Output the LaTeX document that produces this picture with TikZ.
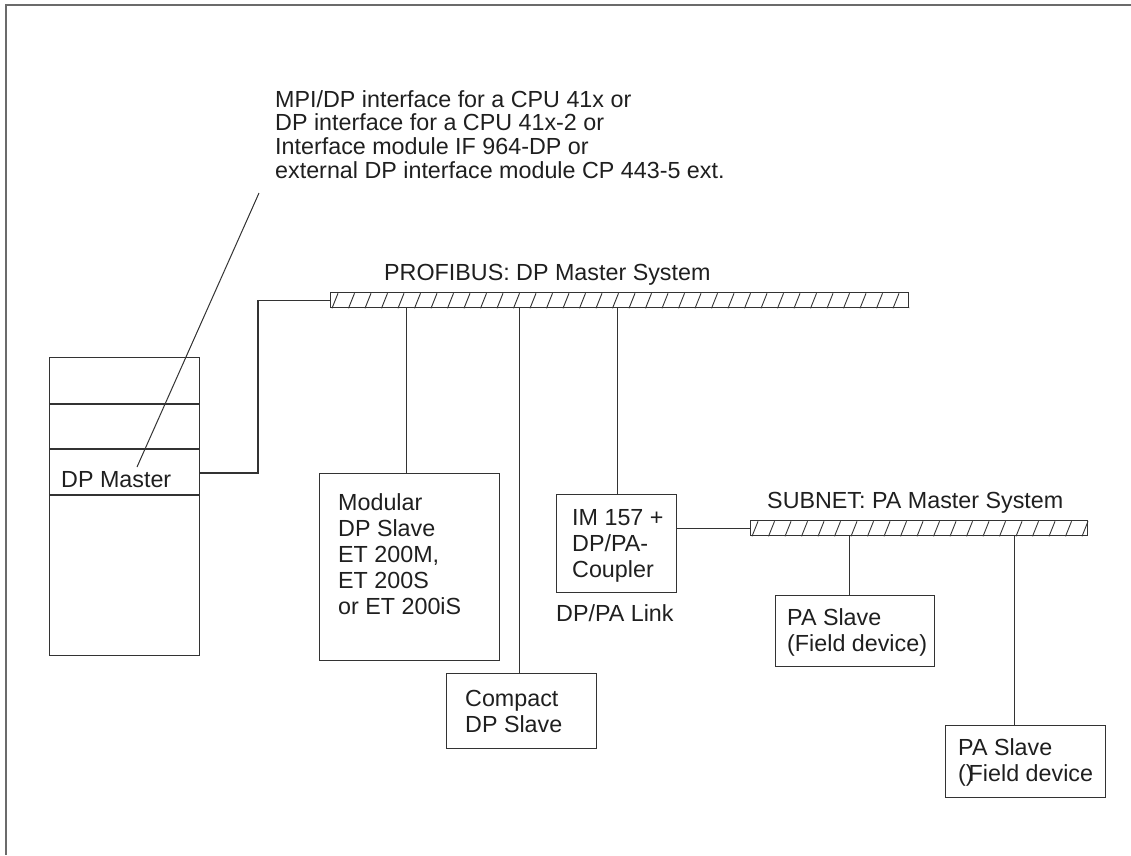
\documentclass[tikz,border=0pt]{standalone}
\usepackage{fontspec}
\setmainfont{Liberation Sans}
\definecolor{linec}{gray}{0.2}
\definecolor{framec}{gray}{0.42}
\definecolor{textc}{gray}{0.12}
\newcommand{\lns}[1]{\parbox[t]{600pt}{\raggedright #1}}
\begin{document}
\begin{tikzpicture}[x=1pt,y=-1pt,
  box/.style={draw=linec, line width=1.3pt, inner sep=0pt, anchor=north west},
  bus/.style={draw=linec, line width=1.3pt, inner sep=0pt, anchor=north west, minimum height=15},
  wire/.style={draw=linec, line width=1.3pt},
  hatch/.style={draw=linec, line width=0.9pt},
  txt/.style={anchor=base west, inner sep=0pt, text=textc, font=\fontsize{23.3}{26}\selectfont},
  frame/.style={draw=framec, line width=2pt}]
\useasboundingbox (0,0) rectangle (1131,855);
% frame
\draw[frame] (1131,5) -- (6,5) -- (6,855);
% DP master rack
\node[box, minimum width=150, minimum height=298] (dpm) at (49,357) {};
\coordinate (d1) at (49,404); \coordinate (d2) at (49,449); \coordinate (d3) at (49,495);
\draw[wire] (d1) -- (d1 -| dpm.east);
\draw[wire] (d2) -- (d2 -| dpm.east);
\draw[wire] (d3) -- (d3 -| dpm.east);
\node[txt] (dpmt) at (61,487) {DP Master};
% PROFIBUS bus
\node[bus, minimum width=578] (pb) at (330,292) {};
\begin{scope}
\clip (pb.south west) rectangle (pb.north east);
\foreach \i in {0,...,35} \draw[hatch] ([xshift=\i*16.5pt+2pt]pb.south west) -- ++(6,-15);
\end{scope}
\node[txt] (pbt) at (384,280) {PROFIBUS: DP Master System};
% annotation
\node[txt, font=\fontsize{23.3}{23.7}\selectfont] (ann) at (275,107) {\lns{MPI/DP interface for a CPU 41x or\\DP interface for a CPU 41x-2 or\\Interface module IF 964-DP or\\external DP interface module CP 443-5 ext.}};
\coordinate (la) at (259,193);
\coordinate (lb) at (137,467);
\draw[wire, line width=1pt] (la) -- (lb);
% master to bus
\coordinate (k1) at (258,473);
\draw[wire] (dpm.east |- k1) -- (k1) |- (pb.west);
% modular slave
\node[box, minimum width=180, minimum height=187] (mod) at (319,473) {};
\node[txt] (modt) at (338,510) {\lns{Modular\\DP Slave\\ET 200M,\\ET 200S\\or ET 200iS}};
\draw[wire] ([xshift=-3pt]mod.north) -- ([xshift=-3pt]mod.north |- pb.south);
% compact slave
\node[box, minimum width=150, minimum height=75] (cmp) at (446,673) {};
\node[txt] (cmpt) at (465,706) {\lns{Compact\\DP Slave}};
\draw[wire] ([xshift=-2pt]cmp.north) -- ([xshift=-2pt]cmp.north |- pb.south);
% IM 157 coupler
\node[box, minimum width=120, minimum height=98] (im) at (556,494) {};
\node[txt] (imt) at (572,525) {\lns{IM 157 +\\DP/PA-\\Coupler}};
\node[txt] (link) at (556,621) {DP/PA Link};
\draw[wire] ([xshift=1pt]im.north) -- ([xshift=1pt]im.north |- pb.south);
% subnet bus
\node[bus, minimum width=337] (sb) at (750,520) {};
\begin{scope}
\clip (sb.south west) rectangle (sb.north east);
\foreach \i in {0,...,20} \draw[hatch] ([xshift=\i*16.5pt+2pt]sb.south west) -- ++(6,-15);
\end{scope}
\node[txt] (sbt) at (767,508) {SUBNET: PA Master System};
\draw[wire] (sb.west -| im.east) -- (sb.west);
% PA slaves
\node[box, minimum width=159, minimum height=71] (pa1) at (775,595) {};
\node[txt] (pa1t) at (787,625) {\lns{PA Slave\\(Field device)}};
\draw[wire] ([xshift=-5.5pt]pa1.north) -- ([xshift=-5.5pt]pa1.north |- sb.south);
\node[box, minimum width=160, minimum height=72] (pa2) at (945,725) {};
\node[txt] (pa2t) at (958,755) {\lns{PA Slave\\()\kern-5pt Field device}};
\draw[wire] ([xshift=-11pt]pa2.north) -- ([xshift=-11pt]pa2.north |- sb.south);
\end{tikzpicture}
\end{document}
